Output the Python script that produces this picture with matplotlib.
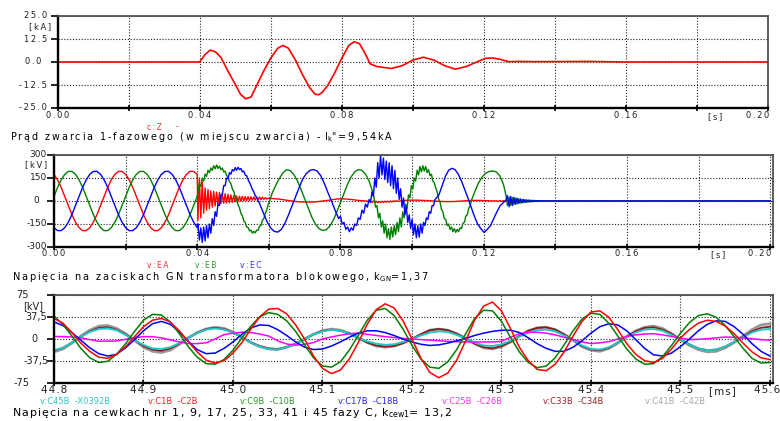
#!/usr/bin/env python3
"""
Fault transient sheet: 1-phase fault current, GN terminal voltages of the
unit transformer, and coil voltages of phase C winding (three stacked plots).
Writes out.png (780x421).
"""

import numpy as np
import matplotlib
matplotlib.use("Agg")
import matplotlib.pyplot as plt
from matplotlib.transforms import blended_transform_factory as blend

plt.rcParams["font.family"] = ["DejaVu Sans"]
plt.rcParams["mathtext.fontset"] = "dejavusans"

# ── panel 1: fault current c:Z [kA] vs time [s] ─────────────────────────────
IZ_T = [0.0, 0.040, 0.0415, 0.043, 0.0445, 0.046, 0.048, 0.050, 0.0515, 0.053,
        0.0545, 0.056, 0.058, 0.060, 0.062, 0.0635, 0.065, 0.067, 0.069, 0.071,
        0.0725, 0.0735, 0.0745, 0.076, 0.078, 0.080, 0.082, 0.0835, 0.085, 0.0865,
        0.088, 0.090, 0.092, 0.094, 0.097, 0.100, 0.103, 0.106, 0.109, 0.112,
        0.115, 0.118, 0.1205, 0.1225, 0.1245, 0.127, 0.130, 0.135, 0.150, 0.160,
        0.200]
IZ_V = [0, 0, 4, 6.5, 5.5, 2.5, -5, -12, -17.5, -20,
        -19, -13, -5, 2, 7.5, 9, 7.5, 1, -7, -14,
        -17.5, -17.8, -16.5, -13, -6, 2, 9, 11, 10, 5,
        -1, -2.5, -3, -3.5, -2, 1, 2.6, 1, -2, -3.9,
        -2.5, 0, 2, 2.2, 1.5, 0.2, 0.3, 0.2, 0.3, 0,
        0]

# ── panel 2: GN terminal voltages [kV]; segments = (start s, step s, values) ──
EA_PRE = [174, 138, 89, 30, -30, -89, -138, -174, -193, -193,
          -174, -138, -89, -30, 30, 89, 138, 174, 193, 193,
          174, 138, 89, 30, -30, -89, -138, -174, -193, -193,
          -174, -138, -89, -30, 30, 89, 138, 174, 193, 193,
          174]
EA_BURST = [-125, 150, -110, 125, -80, 85, -60, 75, -50, 65,
            -40, 62, -32, 58, -25, 55, -18, 52, -15, 48,
            -13, 44, -11, 40, -8, 36, -6, 33, -4, 31,
            -2, 30, 0, 29, 2, 28, 3, 27, 5, 27,
            6, 26, 8, 26, 9, 25, 11, 22, 13, 19,
            15]
EA_MID = [16, 12, 5, -2, -6, -7, -6, 0, 6, 13, 14, 10, 4, 0]
EA_RIPPLE = [-2, -9, -1, -10, -2, -11, -3, -10, -2, -9,
             -1, -8, -1, -7, 0, -6, 1, -4, 2, -2]
EA_LATE = [4, 6, 5, 3, 0, -3, -4, -3, 0, 3, 4, 3]
EA_HF = [1, 0, 2, -3, 3, -3, 3, -2, 2, -2, 1, -1, 1, 0, 0]
EA_END = [0.5, 0.3, 0]

EB_PRE = [30, 89, 138, 174, 193, 193, 174, 138, 89, 30,
          -30, -89, -138, -174, -193, -193, -174, -138, -89, -30,
          30, 89, 138, 174, 193, 193, 174, 138, 89, 30,
          -30, -89, -138, -174, -193, -193, -174, -138, -89, -30,
          30]
EB_BURST = [60, 110, 95, 150, 130, 175, 160, 200, 185, 215,
            200, 230, 210, 235, 212, 228, 205, 215, 190, 195,
            165, 160, 125, 115, 80, 62, 30, 10, -25, -45,
            -80, -95, -130, -140, -170, -172, -195, -190, -210, -198,
            -208, -190, -192, -165, -160, -125, -115, -80, -60, -25,
            0]
EB_MID = [55, 105, 150, 185, 205, 198, 172, 130, 75, 15,
          -45, -105, -150, -180, -192, -188, -165, -125, -70, -10,
          50, 110, 158, 190, 205, 200, 175, 130, 60]
EB_NOISE = [20, -40, -30, -110, -80, -170, -130, -210, -150, -240,
            -180, -250, -170, -235, -160, -220, -140, -200, -110, -170,
            -70, -110, -20, -50, 40, 20, 100, 80, 150, 130,
            200, 170, 225, 190, 230, 195, 225, 185, 205, 165,
            175, 130, 120, 85, 60, 15, -5, -55, -70, -115,
            -120, -160, -150, -185, -170, -200, -180, -205, -185, -200,
            -175, -180, -145, -140, -100, -90, -50, -30, 5]
EB_SWING = [60, 115, 155, 180, 192, 196, 190, 165, 110]
EB_HF = [40, -30, 25, -28, 22, -22, 18, -18, 14, -14,
         11, -11, 9, -9, 7, -7, 5, -5, 4, -4,
         3, -3, 2, -2, 1, 0]
EB_END = [0, 0, 0]

EC_PRE = [-174, -193, -193, -174, -138, -89, -30, 30, 89, 138,
          174, 193, 193, 174, 138, 89, 30, -30, -89, -138,
          -174, -193, -193, -174, -138, -89, -30, 30, 89, 138,
          174, 193, 193, 174, 138, 89, 30, -30, -89, -138,
          -174]
EC_BURST = [-150, -255, -175, -270, -170, -260, -160, -240, -150, -210,
            -115, -160, -70, -100, -20, -30, 40, 40, 100, 100,
            150, 145, 185, 175, 205, 195, 218, 200, 220, 205,
            212, 190, 195, 170, 165, 140, 120, 100, 75, 60,
            35, 25, 0, -15, -40]
EC_MID = [-80, -135, -175, -198, -203, -185, -145, -90, -30, 30,
          90, 145, 180, 200, 205, 195, 165, 115, 55, 0,
          -60]
EC_RISE = [-115, -100, -150, -140, -185, -170, -200, -175, -190, -150,
           -160, -110, -120, -60, -80, -20, -40, 10]
EC_NOISE = [-10, 60, 30, 150, 90, 250, 150, 300, 170, 280,
            140, 260, 120, 250, 100, 230, 80, 200, 50, 150,
            10, 80, -40, 20, -90, -40, -140, -90, -180, -120,
            -220, -150, -240, -160, -235, -150, -210, -140, -160, -110,
            -120, -70, -80, -30, -30, 10, 20]
EC_SWING = [40, 100, 160, 200, 213, 205, 175, 130, 75, 20,
            -40, -100, -150, -180, -205, -185, -160, -115, -70, -30]
EC_HF = [5, 35, -38, 30, -30, 24, -22, 18, -16, 13,
         -12, 10, -9, 7, -6, 5, -4, 4, -3, 3,
         -2, 2, -1, 1, 0]
EC_END = [0, 0, 0]

EA_SEGS = [(0.0, 0.001, EA_PRE), (0.0402, 0.0004, EA_BURST), (0.061, 0.002, EA_MID),
           (0.0884, 0.0004, EA_RIPPLE), (0.098, 0.002, EA_LATE),
           (0.1225, 0.0005, EA_HF), (0.135, 0.0325, EA_END)]
EB_SEGS = [(0.0, 0.001, EB_PRE), (0.0402, 0.0004, EB_BURST), (0.061, 0.001, EB_MID),
           (0.0894, 0.0004, EB_NOISE), (0.1175, 0.001, EB_SWING),
           (0.1262, 0.00045, EB_HF), (0.14, 0.03, EB_END)]
EC_SEGS = [(0.0, 0.001, EC_PRE), (0.0402, 0.0004, EC_BURST), (0.0585, 0.001, EC_MID),
           (0.0795, 0.0005, EC_RISE), (0.0884, 0.0004, EC_NOISE),
           (0.1075, 0.0009, EC_SWING), (0.1262, 0.00045, EC_HF), (0.14, 0.03, EC_END)]

# ── panel 3: coil voltages [kV], from 44.80 ms every 0.01 ms ─────────────────
T3_START, T3_STEP = 44.80, 0.01
C1B = [35, 27, 11, -7, -21, -31, -33, -26, -13, 4,
       21, 32, 35, 29, 14, -4, -22, -36, -41, -37,
       -24, -6, 17, 38, 51, 52, 43, 24, 0, -29,
       -50, -59, -53, -34, -6, 25, 50, 60, 53, 31,
       0, -33, -57, -66, -58, -36, -3, 32, 56, 63,
       48, 18, -14, -37, -52, -54, -43, -22, 5, 30,
       46, 48, 37, 16, -8, -26, -37, -40, -33, -17,
       2, 16, 27, 32, 30, 22, 9, -7, -22, -32,
       -35]
C9B = [39, 25, 5, -16, -32, -40, -38, -26, -8, 13,
       32, 42, 41, 29, 9, -13, -31, -42, -43, -35,
       -19, 2, 22, 38, 45, 42, 31, 13, -10, -32,
       -46, -48, -39, -19, 6, 32, 49, 52, 40, 17,
       -11, -34, -48, -50, -39, -18, 9, 35, 49, 48,
       30, 3, -22, -40, -49, -46, -32, -10, 14, 34,
       44, 42, 27, 5, -17, -34, -43, -42, -30, -11,
       10, 28, 40, 43, 37, 23, 4, -16, -33, -41,
       -40]
C17B = [29, 23, 11, -2, -15, -25, -29, -26, -15, -1,
        14, 26, 30, 25, 12, -4, -18, -25, -24, -16,
        -5, 8, 19, 24, 23, 16, 6, -5, -14, -18,
        -17, -12, -5, 3, 10, 14, 14, 11, 6, 0,
        -5, -9, -11, -10, -7, -3, 1, 6, 10, 13,
        15, 15, 11, 2, -8, -16, -21, -21, -14, -3,
        10, 21, 26, 24, 14, -1, -16, -27, -29, -24,
        -13, 0, 14, 25, 31, 30, 21, 8, -8, -21,
        -29]
C25B = [4.4, 4, 3.5, 2, -1, -3.8, -3.6, -3.3, -0.5, 2.2,
        4, 4, 2, -1.5, -5, -7.8, -7.8, -6.5, 0, 7.5,
        10, 11.5, 11, 8.5, 5, -3, -8.5, -10.5, -9, -6,
        0, 3.5, 6.5, 9, 10, 8, 6, 4, 2.5, 1,
        0, -1, -2, -3, -4, -4.5, -5, -5, -5, -5,
        -4, 3, 9, 11.5, 11.5, 10, 7, 3, -1, -5,
        -7.8, -6.5, -4.5, 0, 4.4, 7, 8.5, 9, 7, 4.4,
        1.5, -1, -0.5, 0.5, 2, 3.3, 3, 2, 0.5, -1,
        -2.2]
C33B = [-20, -15, -6, 4, 13, 19, 20, 16, 8, -2,
        -12, -18, -20, -16, -8, 2, 10, 17, 19, 17,
        11, 3, -6, -12, -16, -17, -14, -8, 0, 8,
        14, 16, 14, 9, 2, -6, -11, -13, -12, -7,
        0, 8, 15, 17, 15, 9, 1, -8, -14, -16,
        -12, -5, 5, 14, 19, 20, 16, 8, -2, -12,
        -18, -19, -15, -6, 4, 13, 19, 20, 16, 9,
        -1, -9, -16, -19, -18, -13, -5, 4, 13, 19,
        21]
C41B = [-22, -17, -7, 5, 15, 22, 23, 18, 9, -2,
        -14, -21, -23, -19, -9, 2, 11, 17, 20, 18,
        12, 3, -6, -13, -17, -18, -14, -8, 0, 8,
        14, 17, 15, 10, 2, -6, -12, -14, -12, -7,
        0, 8, 15, 17, 15, 9, 1, -8, -15, -17,
        -13, -5, 5, 14, 19, 20, 16, 8, -2, -13,
        -19, -21, -16, -7, 4, 14, 20, 22, 18, 9,
        -1, -11, -18, -22, -21, -15, -6, 5, 16, 24,
        26]
C45B = [-19, -15, -6, 4, 12, 17, 18, 15, 7, -2,
        -10, -16, -17, -14, -7, 2, 10, 16, 18, 16,
        11, 3, -6, -13, -17, -18, -14, -8, 0, 8,
        13, 16, 14, 9, 2, -4, -8, -10, -9, -5,
        0, 6, 11, 13, 12, 7, 1, -6, -11, -12,
        -9, -3, 4, 11, 15, 16, 13, 6, -2, -11,
        -17, -18, -14, -6, 3, 11, 16, 17, 14, 7,
        -1, -9, -16, -19, -18, -13, -5, 3, 11, 16,
        17]

# ── ticks and labels ─────────────────────────────────────────────────────────
S_TICKS = [0.00, 0.02, 0.04, 0.06, 0.08, 0.10, 0.12, 0.14, 0.16, 0.18, 0.20]
S_LABELS = ["0.00", "0.04", "0.08", "0.12", "0.16", "0.20"]
S_LABEL_AT = [0.00, 0.04, 0.08, 0.12, 0.16, 0.197]
KA_TICKS = [25.0, 12.5, 0.0, -12.5, -25.0]
KA_LABELS = ["25.0", "12.5", "0.0", "-12.5", "-25.0"]
KV1_TICKS = [300, 150, 0, -150, -300]
KV1_LABELS = ["300", "150", "0", "-150", "-300"]
MS_TICKS = [44.8, 44.9, 45.0, 45.1, 45.2, 45.3, 45.4, 45.5, 45.6]
MS_LABELS = ["44.8", "44.9", "45.0", "45.1", "45.2", "45.3", "45.4", "45.5", "45.6"]
MS_LABEL_AT = [44.8, 44.9, 45.0, 45.1, 45.2, 45.3, 45.4, 45.5, 45.597]
KV3_TICKS = [75, 37.5, 0, -37.5, -75]
KV3_LABELS = ["75", "37,5", "0", "-37,5", "-75"]

W, H = 780, 421
fig = plt.figure(figsize=(W / 100, H / 100), dpi=100)

THIN, HAIR = "\u2009", "\u200a"


def spaced(s, sep=THIN):
    return sep.join(s)


def build(segs):
    ts, vs = [], []
    for t0, dt, vals in segs:
        ts.append(t0 + dt * np.arange(len(vals)))
        vs.append(np.asarray(vals, dtype=float))
    return np.concatenate(ts), np.concatenate(vs)


def px_axes(x0, y0, x1, y1):
    return fig.add_axes([x0 / W, 1 - y1 / H, (x1 - x0) / W, (y1 - y0) / H])


def frame(ax, xticks, yticks):
    ax.set_xticks(xticks)
    ax.set_yticks(yticks)
    for side in ("top", "right"):
        ax.spines[side].set_color("#505050")
        ax.spines[side].set_linewidth(1.3)
    for side in ("left", "bottom"):
        ax.spines[side].set_color("black")
        ax.spines[side].set_linewidth(1.7)
    ax.tick_params(axis="x", direction="inout", length=5, width=1.2,
                   labelbottom=False)
    ax.tick_params(axis="y", direction="out", length=5, width=1.2,
                   labelleft=False)
    ax.grid(True, color="#222222", linestyle=(0, (1, 1.6)), linewidth=0.8)
    ax.set_axisbelow(True)


def xlabels(ax, xs, labels, py, size, sep=THIN):
    tr = blend(ax.transData, fig.transFigure)
    for x, lab in zip(xs, labels):
        ax.text(x, 1 - py / H, spaced(lab, sep), transform=tr,
                ha="center", va="center", fontsize=size, color="#202020")


def ylabels(ax, ys, labels, right_px, size, sep=THIN):
    tr = blend(fig.transFigure, ax.transData)
    for y, lab, rx in zip(ys, labels, right_px):
        ax.text(rx / W, y, spaced(lab, sep), transform=tr,
                ha="right", va="center", fontsize=size, color="#202020")


def ftext(px, py, s, size, color="#202020", ha="left"):
    return fig.text(px / W, 1 - py / H, s, fontsize=size, color=color,
                    ha=ha, va="center")


def fit_title(px, py, s, width_px, size=8):
    t = ftext(px, py, s, size, color="black")
    w = t.get_window_extent(fig.canvas.get_renderer()).width
    t.set_fontsize(size * width_px / w)
    return t


# ── panel 1 ──
ax1 = px_axes(57.5, 16, 768, 108)
ax1.plot(IZ_T, IZ_V, color="#ff0000", lw=1.2)
ax1.set_xlim(0, 0.2)
ax1.set_ylim(-25, 25)
frame(ax1, S_TICKS, KA_TICKS)
xlabels(ax1, S_LABEL_AT, S_LABELS, 116, 6)
ylabels(ax1, KA_TICKS, KA_LABELS, [47, 47, 41, 47, 47], 6)
ftext(51, 27, spaced("[kA]"), 6, ha="right")
ftext(715, 117, spaced("[s]"), 6, ha="center")
ftext(147, 127, spaced("c:Z"), 5.5, color="#ff3030")
ftext(176, 127, "-", 5.5, color="#ff3030")
fit_title(10, 137, spaced("Prąd zwarcia 1-fazowego (w miejscu zwarcia) - ")
          + r"$\mathrm{I}_\mathrm{k}$" + spaced('"=9,54kA'), 385)

# ── panel 2 ──
ax2 = px_axes(54, 155, 773, 247)
for segs, col in ((EA_SEGS, "#ff0000"), (EB_SEGS, "#008000"), (EC_SEGS, "#0000ff")):
    t, v = build(segs)
    ax2.plot(t, v, color=col, lw=1.0)
ax2.set_xlim(0, 0.2008)
ax2.set_ylim(-300, 300)
frame(ax2, S_TICKS, KV1_TICKS)
xlabels(ax2, S_LABEL_AT, S_LABELS, 254, 6)
ylabels(ax2, KV1_TICKS, KV1_LABELS, [47, 47, 39, 47, 47], 6.5, sep="")
ftext(47, 165, spaced("[kV]"), 6, ha="right")
ftext(718, 255, spaced("[s]"), 6, ha="center")
ftext(147, 265, spaced("v:EA"), 5.5, color="#ff3030")
ftext(195, 265, spaced("v:EB"), 5.5, color="#2a9a2a")
ftext(240, 265, spaced("v:EC"), 5.5, color="#3030ff")
fit_title(12, 277, spaced("Napięcia na zaciskach GN transformatora blokowego, ")
          + r"$\mathrm{k}_\mathrm{GN}$" + spaced("=1,37"), 420)

# ── panel 3 ──
ax3 = px_axes(54, 295, 773, 383)
t3 = T3_START + T3_STEP * np.arange(len(C1B))
ax3.plot(t3, C41B, color="#999999", lw=2.0)
ax3.plot(t3, C33B, color="#8b1a1a", lw=1.3)
ax3.plot(t3, C45B, color="#20c8c8", lw=1.4)
ax3.plot(t3, C25B, color="#ff00ff", lw=1.1)
ax3.plot(t3, C17B, color="#0000ff", lw=1.1)
ax3.plot(t3, C9B, color="#008000", lw=1.1)
ax3.plot(t3, C1B, color="#ff0000", lw=1.1)
ax3.set_xlim(44.8, 45.6034)
ax3.set_ylim(-75, 75)
frame(ax3, MS_TICKS, KV3_TICKS)
xlabels(ax3, MS_LABEL_AT, MS_LABELS, 390, 7.5, sep=HAIR)
ylabels(ax3, KV3_TICKS, KV3_LABELS, [29, 47, 38, 49, 30], 7, sep="")
ftext(43, 306, "[kV]", 7, ha="right")
ftext(722, 391, spaced("[ms]", HAIR), 7.5, ha="center")
legend3 = [(40, "v:C45B  -X0392B", "#33c4c4"), (148, "v:C1B  -C2B", "#ff2020"),
           (240, "v:C9B  -C10B", "#2a9a2a"), (338, "v:C17B  -C18B", "#2020ff"),
           (442, "v:C25B  -C26B", "#ff33ff"), (543, "v:C33B  -C34B", "#992222"),
           (645, "v:C41B  -C42B", "#a8a8a8")]
for x, s, c in legend3:
    ftext(x, 402, s, 6, color=c)
fit_title(12, 413, spaced("Napięcia na cewkach nr 1, 9, 17, 25, 33, 41 i 45 fazy C, ", HAIR)
          + r"$\mathrm{k}_\mathrm{cew1}$" + spaced("= 13,2", HAIR), 441)

fig.savefig("out.png", dpi=100)
